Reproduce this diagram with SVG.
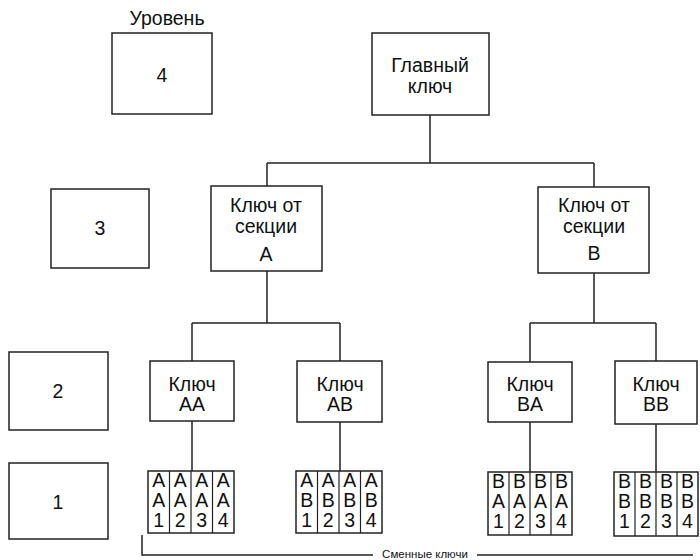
<svg xmlns="http://www.w3.org/2000/svg" width="700" height="560" viewBox="0 0 700 560">
<style>
.box{fill:#fff;stroke:#222;stroke-width:1.5}
.ln{fill:none;stroke:#222;stroke-width:1.5}
.sep{stroke:#222;stroke-width:1.2}
text{font-family:"Liberation Sans",Arial,sans-serif;font-size:19.5px;fill:#111;text-anchor:middle}
.sm{font-size:11.5px}
</style>
<rect width="700" height="560" fill="#fff"/>
<g id="connectors">
<path class="ln" d="M430 115V163M267 163H594M267 163V186M594 163V187"/>
<path class="ln" d="M267 271V323M192 323H340M192 323V361M340 323V361"/>
<path class="ln" d="M594 273V323M530 323H656M530 323V362M656 323V361"/>
<path class="ln" d="M192 421V471M340 422V471M530 422V472M656 424V472"/>
<path class="ln" d="M142 535V555H373M477 555H693"/>
</g>
<g id="level-label"><text x="167" y="25">Уровень</text></g>
<g id="level4"><rect class="box" x="112" y="33" width="100" height="81"/><text x="162" y="82">4</text></g>
<g id="level3"><rect class="box" x="51" y="189" width="98" height="79"/><text x="100" y="235">3</text></g>
<g id="level2"><rect class="box" x="9" y="352" width="99" height="78"/><text x="58" y="398">2</text></g>
<g id="level1"><rect class="box" x="9" y="463" width="99" height="76"/><text x="58" y="509">1</text></g>
<g id="master"><rect class="box" x="372" y="33" width="117" height="82"/><text x="430" y="72">Главный</text><text x="430" y="93">ключ</text></g>
<g id="sectionA"><rect class="box" x="211" y="186" width="111" height="85"/><text x="266" y="212">Ключ от</text><text x="266" y="233">секции</text><text x="266" y="261">A</text></g>
<g id="sectionB"><rect class="box" x="538" y="187" width="111" height="86"/><text x="594" y="212">Ключ от</text><text x="594" y="233">секции</text><text x="594" y="260">B</text></g>
<g id="keyAA"><rect class="box" x="150" y="361" width="84" height="60"/><text x="192" y="391">Ключ</text><text x="192" y="411">AA</text></g>
<g id="keyAB"><rect class="box" x="297" y="361" width="85" height="61"/><text x="340" y="391">Ключ</text><text x="340" y="411">AB</text></g>
<g id="keyBA"><rect class="box" x="488" y="362" width="84" height="60"/><text x="530" y="391">Ключ</text><text x="530" y="411">BA</text></g>
<g id="keyBB"><rect class="box" x="615" y="361" width="82" height="63"/><text x="656" y="391">Ключ</text><text x="656" y="411">BB</text></g>
<g id="leavesAA">
<rect class="box" x="148" y="471" width="86" height="62"/>
<path class="sep" d="M169.5 471V533M191 471V533M212.5 471V533"/>
<text x="158.75" y="487">A</text><text x="158.75" y="507">A</text><text x="158.75" y="527">1</text>
<text x="180.25" y="487">A</text><text x="180.25" y="507">A</text><text x="180.25" y="527">2</text>
<text x="201.75" y="487">A</text><text x="201.75" y="507">A</text><text x="201.75" y="527">3</text>
<text x="223.25" y="487">A</text><text x="223.25" y="507">A</text><text x="223.25" y="527">4</text>
</g>
<g id="leavesAB">
<rect class="box" x="296" y="471" width="86" height="62"/>
<path class="sep" d="M317.5 471V533M339 471V533M360.5 471V533"/>
<text x="306.75" y="487">A</text><text x="306.75" y="507">B</text><text x="306.75" y="527">1</text>
<text x="328.25" y="487">A</text><text x="328.25" y="507">B</text><text x="328.25" y="527">2</text>
<text x="349.75" y="487">A</text><text x="349.75" y="507">B</text><text x="349.75" y="527">3</text>
<text x="371.25" y="487">A</text><text x="371.25" y="507">B</text><text x="371.25" y="527">4</text>
</g>
<g id="leavesBA">
<rect class="box" x="488" y="472" width="84" height="63"/>
<path class="sep" d="M509 472V535M530 472V535M551 472V535"/>
<text x="498.5" y="488">B</text><text x="498.5" y="508">A</text><text x="498.5" y="528">1</text>
<text x="519.5" y="488">B</text><text x="519.5" y="508">A</text><text x="519.5" y="528">2</text>
<text x="540.5" y="488">B</text><text x="540.5" y="508">A</text><text x="540.5" y="528">3</text>
<text x="561.5" y="488">B</text><text x="561.5" y="508">A</text><text x="561.5" y="528">4</text>
</g>
<g id="leavesBB">
<rect class="box" x="614" y="472" width="84" height="64"/>
<path class="sep" d="M635 472V536M656 472V536M677 472V536"/>
<text x="624.5" y="488">B</text><text x="624.5" y="508">B</text><text x="624.5" y="528">1</text>
<text x="645.5" y="488">B</text><text x="645.5" y="508">B</text><text x="645.5" y="528">2</text>
<text x="666.5" y="488">B</text><text x="666.5" y="508">B</text><text x="666.5" y="528">3</text>
<text x="687.5" y="488">B</text><text x="687.5" y="508">B</text><text x="687.5" y="528">4</text>
</g>
<g id="replaceable-label"><text class="sm" x="425" y="558">Сменные ключи</text></g>
</svg>
